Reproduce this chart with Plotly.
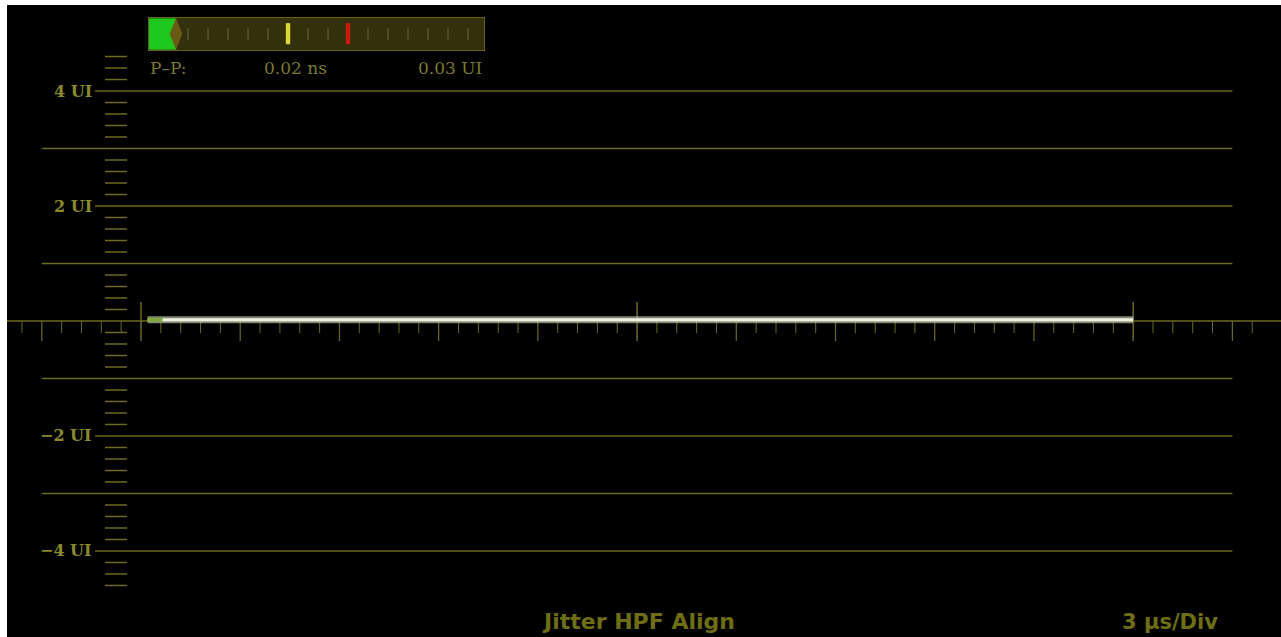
import plotly.graph_objects as go

# ---------------- data ----------------
trace_time_us = [0.2, 30.0]          # jitter trace start / end (µs)
trace_jitter_ui = [0.02, 0.02]        # jitter amplitude (UI), essentially flat
grid_levels_ui = [-4, -3, -2, -1, 1, 2, 3, 4]
labeled_levels_ui = [4, 2, -2, -4]
level_labels = ["4 UI", "2 UI", "\u22122 UI", "\u22124 UI"]
div_us = 3.0                          # 3 µs per division
major_div_marks = [0, 5, 10]          # tall marks (in divisions)
meter_ticks = [0.2, 0.3, 0.4, 0.5, 0.6, 0.8, 0.9, 1.1, 1.2, 1.3, 1.4, 1.5, 1.6]
meter_value = 0.14
meter_warn = 0.7
meter_alarm = 1.0
meter_max = 1.685
pp_texts = ["P\u2013P:", "0.02 ns", "0.03 UI"]
title_text = "Jitter HPF Align"
scale_text = "3 \u00b5s/Div"

# ---------------- styles ----------------
GRID = "#6a6a22"
LABEL = "#8a8a2c"
BOTTOM = "#6e6e14"
XMIN, XMAX = -4.052, 34.47
YMIN, YMAX = -5.496, 5.496
METER_X = [0.1107, 0.3752]
METER_Y = [0.9272, 0.981]

fig = go.Figure()

# jitter trace (glow + core + green onset)
fig.add_trace(go.Scatter(x=trace_time_us, y=trace_jitter_ui, mode="lines",
                         line=dict(color="rgba(185,190,165,0.7)", width=7),
                         hoverinfo="skip", showlegend=False))
fig.add_trace(go.Scatter(x=trace_time_us, y=trace_jitter_ui, mode="lines",
                         line=dict(color="#eef0e2", width=3),
                         hoverinfo="skip", showlegend=False))
fig.add_trace(go.Scatter(x=[trace_time_us[0], trace_time_us[0] + 0.45],
                         y=trace_jitter_ui, mode="lines",
                         line=dict(color="#7ea83a", width=4),
                         hoverinfo="skip", showlegend=False))

shapes = []
# horizontal graticule
grid_x0 = -1 * div_us
grid_x1 = 11 * div_us
label_x = -1.39
for lvl in grid_levels_ui:
    x0 = label_x if lvl in labeled_levels_ui else grid_x0
    shapes.append(dict(type="line", xref="x", yref="y", x0=x0, x1=grid_x1, y0=lvl, y1=lvl,
                       line=dict(color=GRID, width=1.5), layer="below"))
# center line across full width
shapes.append(dict(type="line", xref="paper", yref="y", x0=0, x1=1, y0=0, y1=0,
                   line=dict(color=GRID, width=1.5), layer="below"))

# vertical minor dashes (every 0.2 UI)
for k in range(-23, 24):
    if k % 5 == 0:
        continue
    y = k * 0.2
    shapes.append(dict(type="line", xref="x", yref="y", x0=-1.09, x1=-0.42, y0=y, y1=y,
                       line=dict(color=GRID, width=1.5), layer="below"))

# horizontal ticks along center line
for k in range(-6, 57):
    t = k * div_us / 5
    if k % 25 == 0 and k // 5 in major_div_marks:
        shapes.append(dict(type="line", xref="x", yref="y", x0=t, x1=t, y0=0.33, y1=-0.35,
                           line=dict(color=GRID, width=1.5), layer="below"))
    elif k % 5 == 0:
        shapes.append(dict(type="line", xref="x", yref="y", x0=t, x1=t, y0=0, y1=-0.35,
                           line=dict(color=GRID, width=1.2), layer="below"))
    else:
        shapes.append(dict(type="line", xref="x", yref="y", x0=t, x1=t, y0=0, y1=-0.21,
                           line=dict(color=GRID, width=1), layer="below"))

# ---------------- meter (own axes) ----------------
shapes.append(dict(type="rect", xref="x2", yref="y2", x0=0, x1=meter_max, y0=0, y1=1,
                   fillcolor="#33310c", line=dict(color="#75751e", width=1.5), layer="below"))
for mt in meter_ticks:
    shapes.append(dict(type="line", xref="x2", yref="y2", x0=mt, x1=mt, y0=0.33, y1=0.67,
                       line=dict(color="#6c6c3a", width=1)))
shapes.append(dict(type="rect", xref="x2", yref="y2", x0=0.005, x1=meter_value, y0=0.04, y1=0.96,
                   fillcolor="#1ec81e", line=dict(width=0)))
dw = 0.032
shapes.append(dict(type="path", xref="x2", yref="y2",
                   path=f"M {meter_value - dw},0.5 L {meter_value},0.96 L {meter_value + dw},0.5 L {meter_value},0.04 Z",
                   fillcolor="#6b5a14", line=dict(width=0)))
for lvl, col in [(meter_warn, "#dcd838"), (meter_alarm, "#cc1a10")]:
    shapes.append(dict(type="rect", xref="x2", yref="y2", x0=lvl - 0.011, x1=lvl + 0.011, y0=0.2, y1=0.82,
                       fillcolor=col, line=dict(width=0)))

annotations = []
for lvl, txt in zip(labeled_levels_ui, level_labels):
    annotations.append(dict(x=label_x, y=lvl, xref="x", yref="y", text=f"<b>{txt}</b>", showarrow=False,
                            xanchor="right", yanchor="middle", xshift=-1,
                            font=dict(family="DejaVu Serif", size=16, color=LABEL)))

# meter readout text (paper coordinates just below the meter)
mfont = dict(family="DejaVu Serif", size=17, color="#7a7a30")
ty = METER_Y[0] - 0.027
annotations.append(dict(x=METER_X[0], y=ty, xref="paper", yref="paper", text=pp_texts[0], showarrow=False,
                        xanchor="left", yanchor="middle", font=mfont))
annotations.append(dict(x=0.2002, y=ty, xref="paper", yref="paper", text=pp_texts[1], showarrow=False,
                        xanchor="left", yanchor="middle", font=mfont))
annotations.append(dict(x=METER_X[1] - 0.001, y=ty, xref="paper", yref="paper", text=pp_texts[2], showarrow=False,
                        xanchor="right", yanchor="middle", font=mfont))

# bottom captions
bfont = dict(family="DejaVu Sans, sans-serif", size=22, color=BOTTOM)
annotations.append(dict(x=0.4953, y=0.024, xref="paper", yref="paper", text=f"<b>{title_text}</b>",
                        showarrow=False, xanchor="center", yanchor="middle", font=bfont))
annotations.append(dict(x=0.952, y=0.024, xref="paper", yref="paper", text=f"<b>{scale_text}</b>",
                        showarrow=False, xanchor="right", yanchor="middle",
                        font=dict(family="DejaVu Sans, sans-serif", size=21, color=BOTTOM)))

fig.update_layout(
    width=1281, height=637,
    margin=dict(l=7, r=0, t=5, b=0),
    paper_bgcolor="white",
    plot_bgcolor="black",
    showlegend=False,
    xaxis=dict(range=[XMIN, XMAX], visible=False, fixedrange=True, domain=[0, 1]),
    yaxis=dict(range=[YMIN, YMAX], visible=False, fixedrange=True, domain=[0, 1]),
    xaxis2=dict(range=[0, meter_max], visible=False, domain=METER_X, anchor="y2", fixedrange=True),
    yaxis2=dict(range=[0, 1], visible=False, domain=METER_Y, anchor="x2", fixedrange=True),
    shapes=shapes,
    annotations=annotations,
)
# dummy trace to activate meter axes
fig.add_trace(go.Scatter(x=[None], y=[None], xaxis="x2", yaxis="y2", showlegend=False))

fig.write_html("out.html", config={"displayModeBar": False},
               post_script="document.body.style.margin='0';")
